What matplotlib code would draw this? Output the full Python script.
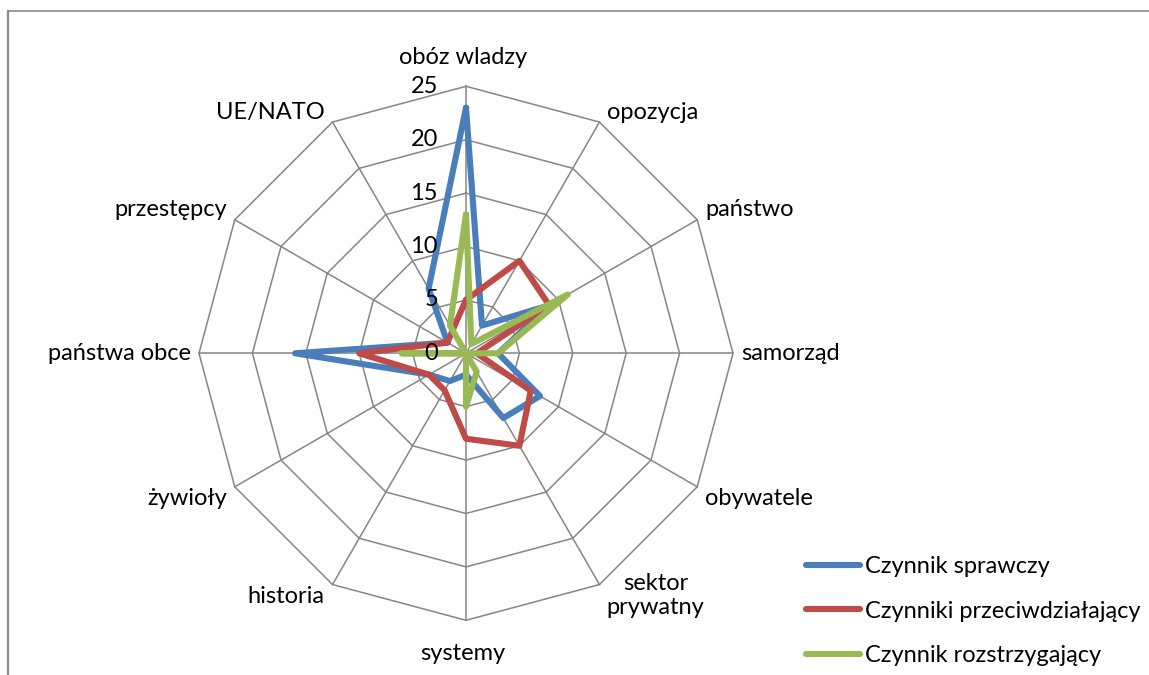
import numpy as np
import matplotlib
matplotlib.use("Agg")
import matplotlib.pyplot as plt
from matplotlib.lines import Line2D

plt.rcParams['font.family'] = ['Lato', 'DejaVu Sans']

categories = ['obóz wladzy', 'opozycja', 'państwo', 'samorząd', 'obywatele',
              'sektor\nprywatny', 'systemy', 'historia', 'żywioły',
              'państwa obce', 'przestępcy', 'UE/NATO']
sprawczy = [23, 3, 9, 3, 8, 7, 2, 3, 4, 16, 2, 7]
przeciw = [5, 10, 9, 1, 7, 10, 8, 4, 4, 10, 2, 2.5]
rozstrz = [13, 1, 11, 3, 0, 2, 5, 0, 0, 6, 0, 3]
series_names = ['Czynnik sprawczy', 'Czynniki przeciwdziałający', 'Czynnik rozstrzygający']
ticks = [0, 5, 10, 15, 20, 25]

colors = ['#4A7EBB', '#BE4B48', '#98B954']
grid_c = '#868686'
FS = 17

W, H = 1149, 675
fig = plt.figure(figsize=(W / 100, H / 100), dpi=100)

# outer frame (cut off at right and bottom)
fig.add_artist(Line2D([8 / W, 1.0], [1 - 11 / H, 1 - 11 / H], color='#8a8a8a', lw=1.2,
                      transform=fig.transFigure))
fig.add_artist(Line2D([8 / W, 8 / W], [1 - 11 / H, 0], color='#8a8a8a', lw=1.6,
                      transform=fig.transFigure))

cx, cy, R = 466, 353.3, 267
ax = fig.add_axes([(cx - R) / W, (H - cy - R) / H, 2 * R / W, 2 * R / H], projection='polar')
ax.set_theta_zero_location('N')
ax.set_theta_direction(-1)
ax.set_ylim(0, ticks[-1])
ax.grid(False)
ax.spines['polar'].set_visible(False)
ax.set_xticks([])
ax.set_yticks([])
ax.patch.set_alpha(0)

n = len(categories)
ang = np.arange(n) * 2 * np.pi / n
ang_c = np.append(ang, ang[0])

for v in ticks[1:]:
    ax.plot(ang_c, [v] * (n + 1), color=grid_c, lw=1.1, clip_on=False, zorder=1)
for a in ang:
    ax.plot([a, a], [0, ticks[-1]], color=grid_c, lw=1.1, clip_on=False, zorder=1)

for vals, c, name in zip([sprawczy, przeciw, rozstrz], colors, series_names):
    vv = list(vals) + [vals[0]]
    ax.plot(ang_c, vv, color=c, lw=4.4, solid_joinstyle='round', solid_capstyle='round',
            clip_on=False, zorder=3, label=name)

# radial tick labels
for v in ticks:
    ax.annotate(str(v), xy=(0, v), xytext=(-28, 0), textcoords='offset pixels',
                ha='right', va='center', fontsize=FS, annotation_clip=False, zorder=4)

# category labels
for a, lab in zip(ang, categories):
    s, c = np.sin(a), np.cos(a)
    if abs(s) < 0.01:
        ha = 'center'
        dx, dy = -3, (29 if c > 0 else -33)
    elif s > 0:
        ha = 'left'
        dx, dy = 8, 0
    else:
        ha = 'right'
        dx, dy = -8, 0
    if 0.3 < abs(c) < 0.95 and abs(s) > 0.01:
        dy = 10 if c > 0 else -12
    if '\n' in lab:
        ha = 'center'
        dx, dy = 56, -11
    ax.annotate(lab, xy=(a, ticks[-1]), xytext=(dx, dy), textcoords='offset pixels',
                ha=ha, va='center', multialignment='center', fontsize=FS,
                annotation_clip=False, linespacing=1.15)

leg = ax.legend(loc='upper left', bbox_to_anchor=(806 / W, 1 - 556 / H),
                bbox_transform=fig.transFigure, frameon=False, fontsize=FS,
                handlelength=2.3, handletextpad=0.2, borderpad=0, borderaxespad=0,
                labelspacing=1.0)
for h in leg.get_lines():
    h.set_linewidth(4.4)

fig.savefig('out.png', dpi=100, facecolor='white')
